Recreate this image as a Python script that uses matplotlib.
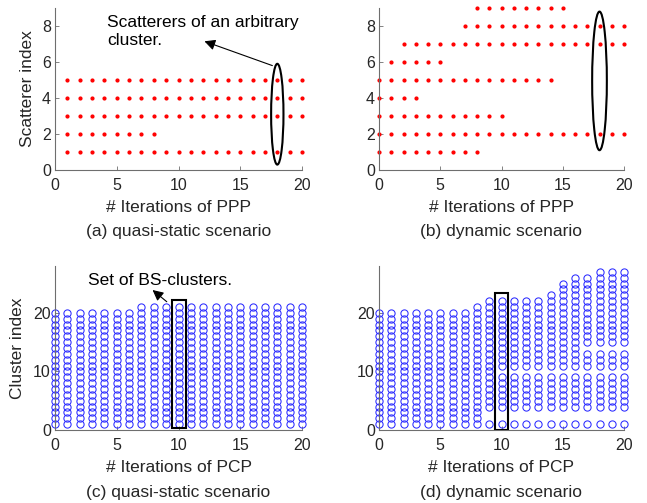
import numpy as np
from matplotlib import pyplot as plt
from matplotlib.patches import Ellipse, Rectangle

plt.rcParams['font.family'] = ['Liberation Sans', 'DejaVu Sans']

# --- data -------------------------------------------------------------
# (a)/(b): scatterer index and the PPP iterations (first..last) where it exists
static_rows = [1, 2, 3, 4, 5]
static_first = [1, 1, 1, 1, 1]
static_last = [20, 8, 20, 20, 20]

dynamic_rows = [1, 2, 3, 4, 5, 6, 7, 8, 9]
dynamic_first = [0, 0, 0, 0, 0, 1, 2, 7, 8]
dynamic_last = [8, 20, 10, 3, 14, 5, 20, 20, 15]

# (c)/(d): number of clusters per PCP iteration, and missing cluster indices
pcp_iters = list(range(21))
static_top = [20, 20, 20, 20, 20, 20, 20, 21, 21, 21, 21,
              21, 21, 21, 21, 21, 21, 21, 21, 21, 21]
dynamic_top = [20, 20, 20, 20, 20, 20, 20, 20, 21, 22, 22,
               22, 22, 22, 23, 25, 26, 26, 27, 27, 27]
dynamic_gaps = [[], [], [], [], [], [], [], [], [], [2, 3], [2, 3, 10],
                [2, 3, 10], [2, 3, 10], [2, 3, 10], [2, 3, 10], [2, 3, 10], [2, 3, 10],
                [2, 3, 10, 14], [2, 3, 10, 14], [2, 3, 10, 14], [2, 3, 10, 14]]

captions = ['(a) quasi-static scenario', '(b) dynamic scenario',
            '(c) quasi-static scenario', '(d) dynamic scenario']

W, H = 647, 503
fig = plt.figure(figsize=(W / 100, H / 100), dpi=100)

def px_axes(left, right, top, bottom):
    return fig.add_axes([left / W, 1 - bottom / H, (right - left) / W, (bottom - top) / H])

ax_a = px_axes(55, 302, 8, 170)
ax_b = px_axes(379, 624, 8, 170)
ax_c = px_axes(55, 302, 266, 430)
ax_d = px_axes(379, 624, 266, 430)

tick_col = '#262626'
spine_col = '#6e6e6e'
lab_fs = 12.5

def style(ax, ylim, yticks):
    ax.set_xlim(0, 20)
    ax.set_ylim(*ylim)
    ax.set_xticks([0, 5, 10, 15, 20])
    ax.set_yticks(yticks)
    for s in ['top', 'right']:
        ax.spines[s].set_visible(False)
    for s in ['left', 'bottom']:
        ax.spines[s].set_color(spine_col)
        ax.spines[s].set_linewidth(0.8)
    ax.tick_params(direction='in', length=3, width=0.6, color=spine_col,
                   labelsize=11.5, labelcolor=tick_col)
    ax.tick_params(axis='x', pad=6)
    ax.tick_params(axis='y', pad=3)


def scatter_rows(ax, rows, first, last):
    for r, a, b in zip(rows, first, last):
        xs = np.arange(a, b + 1)
        ax.plot(xs, np.full(len(xs), r), '.', color='#ff0000', markersize=4, clip_on=False)


def cluster_cols(ax, tops, gaps=None):
    for i, (x, top) in enumerate(zip(pcp_iters, tops)):
        ys = [y for y in range(1, top + 1) if gaps is None or y not in gaps[i]]
        ax.plot([x] * len(ys), ys, 'o', mfc='none', mec='#2a2aff', markersize=5.2,
                mew=0.75, clip_on=False)


arrow = dict(arrowstyle='-|>', color='k', lw=0.8, mutation_scale=16, shrinkA=0, shrinkB=0)

# (a)
scatter_rows(ax_a, static_rows, static_first, static_last)
style(ax_a, (0, 9), [0, 2, 4, 6, 8])
ax_a.add_patch(Ellipse((18, 3.1), 1.0, 5.6, fill=False, ec='k', lw=1.5))
ax_a.annotate('', xy=(12.1, 7.15), xytext=(17.6, 5.8), arrowprops=arrow)
ax_a.text(4.2, 7.7, 'Scatterers of an arbitrary\ncluster.', fontsize=lab_fs, ha='left',
          va='center', linespacing=1.2)
ax_a.set_ylabel('Scatterer index', fontsize=lab_fs, color=tick_col)
ax_a.yaxis.set_label_coords(-0.082, 0.5)

# (b)
scatter_rows(ax_b, dynamic_rows, dynamic_first, dynamic_last)
style(ax_b, (0, 9), [0, 2, 4, 6, 8])
ax_b.add_patch(Ellipse((18, 4.95), 1.2, 7.7, fill=False, ec='k', lw=1.5))

# (c)
cluster_cols(ax_c, static_top)
style(ax_c, (0, 28), [0, 10, 20])
ax_c.add_patch(Rectangle((9.5, 0.3), 1.1, 21.9, fill=False, ec='k', lw=1.5, zorder=3))
ax_c.annotate('', xy=(7.9, 23.9), xytext=(9.05, 21.9), arrowprops=arrow)
ax_c.text(2.65, 25.6, 'Set of BS-clusters.', fontsize=lab_fs, ha='left', va='center')
ax_c.set_ylabel('Cluster index', fontsize=lab_fs, color=tick_col)
ax_c.yaxis.set_label_coords(-0.12, 0.5)

# (d)
cluster_cols(ax_d, dynamic_top, dynamic_gaps)
style(ax_d, (0, 28), [0, 10, 20])
ax_d.add_patch(Rectangle((9.45, 0.0), 1.1, 23.4, fill=False, ec='k', lw=1.5, zorder=3))

for ax, lab in [(ax_a, 'PPP'), (ax_b, 'PPP'), (ax_c, 'PCP'), (ax_d, 'PCP')]:
    ax.set_xlabel('# Iterations of ' + lab, fontsize=lab_fs, color=tick_col)
    ax.xaxis.set_label_coords(0.5, -0.23)
    ax.xaxis.label.set_va('center')

# captions
for ax, cap in zip([ax_a, ax_b, ax_c, ax_d], captions):
    ax.text(0.5, -0.38, cap, transform=ax.transAxes, fontsize=lab_fs, ha='center',
            va='center', color=tick_col)

fig.savefig('out.png', dpi=100)
